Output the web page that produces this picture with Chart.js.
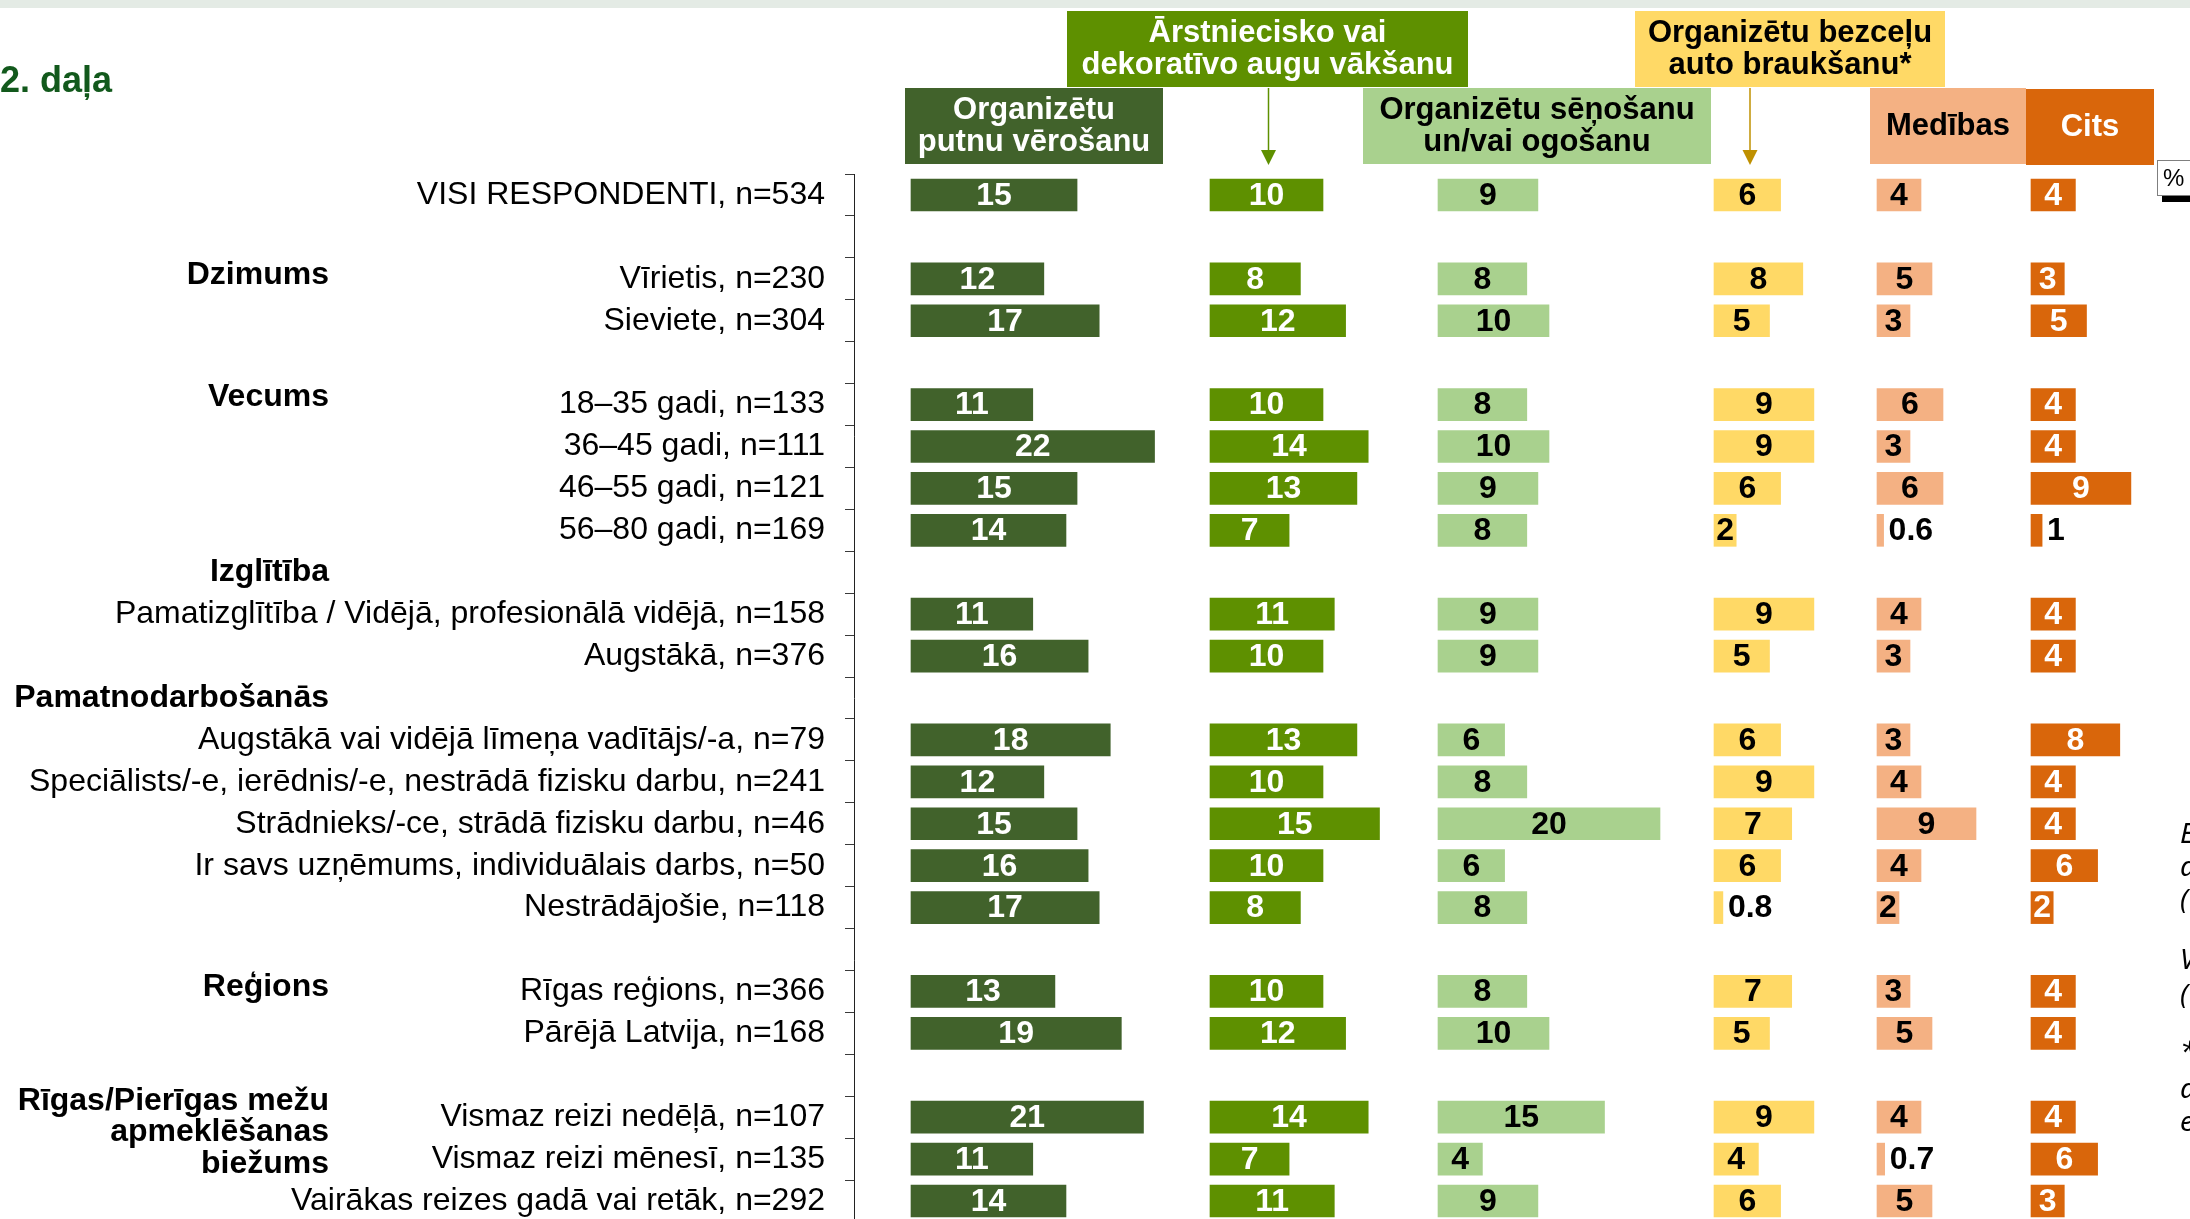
<!DOCTYPE html>
<html lang="lv">
<head>
<meta charset="utf-8">
<title>2. daļa</title>
<script src="https://cdn.jsdelivr.net/npm/chart.js@4.4.1/dist/chart.umd.min.js"></script>
<style>
  html, body { margin: 0; padding: 0; background: #fff; overflow: hidden; }
  #wrap { position: absolute; left: 0; top: 0; width: 2190px; height: 1232px; }
</style>
</head>
<body>
<div id="wrap"><canvas id="chart" width="2190" height="1232"></canvas></div>
<script>
( function ()
{
    'use strict';

    const FONT = "'Liberation Sans', Arial, Helvetica, sans-serif";

    // --- data -------------------------------------------------------------
    const rowLabels = [
        'VISI RESPONDENTI, n=534',
        '',
        'Vīrietis, n=230',
        'Sieviete, n=304',
        '',
        '18–35 gadi, n=133',
        '36–45 gadi, n=111',
        '46–55 gadi, n=121',
        '56–80 gadi, n=169',
        '',
        'Pamatizglītība / Vidējā, profesionālā vidējā, n=158',
        'Augstākā, n=376',
        '',
        'Augstākā vai vidējā līmeņa vadītājs/-a, n=79',
        'Speciālists/-e, ierēdnis/-e, nestrādā fizisku darbu, n=241',
        'Strādnieks/-ce, strādā fizisku darbu, n=46',
        'Ir savs uzņēmums, individuālais darbs, n=50',
        'Nestrādājošie, n=118',
        '',
        'Rīgas reģions, n=366',
        'Pārējā Latvija, n=168',
        '',
        'Vismaz reizi nedēļā, n=107',
        'Vismaz reizi mēnesī, n=135',
        'Vairākas reizes gadā vai retāk, n=292'
    ];

    const groupLabels = [
        [ 'Dzimums' ],
        [ 'Vecums' ],
        [ 'Izglītība' ],
        [ 'Pamatnodarbošanās' ],
        [ 'Reģions' ],
        [ 'Rīgas/Pierīgas mežu', 'apmeklēšanas', 'biežums' ]
    ];
    const groupRows = [ 2, 5, 9, 12, 19, 22 ];

    const seriesHeaders = [
        [ 'Organizētu', 'putnu vērošanu' ],
        [ 'Ārstniecisko vai', 'dekoratīvo augu vākšanu' ],
        [ 'Organizētu sēņošanu', 'un/vai ogošanu' ],
        [ 'Organizētu bezceļu', 'auto braukšanu*' ],
        [ 'Medības' ],
        [ 'Cits' ]
    ];

    const birdWatching = [ 15, null, 12, 17, null, 11, 22, 15, 14, null, 11, 16, null, 18, 12, 15, 16, 17, null, 13, 19, null, 21, 11, 14 ];
    const plantGathering = [ 10, null, 8, 12, null, 10, 14, 13, 7, null, 11, 10, null, 13, 10, 15, 10, 8, null, 10, 12, null, 14, 7, 11 ];
    const mushroomBerry = [ 9, null, 8, 10, null, 8, 10, 9, 8, null, 9, 9, null, 6, 8, 20, 6, 8, null, 8, 10, null, 15, 4, 9 ];
    const offRoadDriving = [ 6, null, 8, 5, null, 9, 9, 6, 2, null, 9, 5, null, 6, 9, 7, 6, 0.8, null, 7, 5, null, 9, 4, 6 ];
    const hunting = [ 4, null, 5, 3, null, 6, 3, 6, 0.6, null, 4, 3, null, 3, 4, 9, 4, 2, null, 3, 5, null, 4, 0.7, 5 ];
    const other = [ 4, null, 3, 5, null, 4, 4, 9, 1, null, 4, 4, null, 8, 4, 4, 6, 2, null, 4, 4, null, 4, 6, 3 ];

    const seriesValues = [ birdWatching, plantGathering, mushroomBerry, offRoadDriving, hunting, other ];

    const sideNotes = [ 'E', 'a', '(', 'V', '(', '*', 'a', 'e' ];

    // --- layout & style ---------------------------------------------------
    const AXIS_X = 854;
    const PLOT_RIGHT = 2190;
    const PLOT_TOP = 174;
    const CANVAS_H = 1232;
    const PLOT_BOTTOM = 1222;

    const panelLeft = [ 911, 1210, 1438, 1714, 1877, 2031 ];
    const unitPx = [ 11.07, 11.3, 11.1, 11.1, 11.0, 11.1 ];
    const fills = [ '#41622b', '#5e9000', '#a9d18e', '#ffd966', '#f4b183', '#d9660b' ];
    const inks = [ '#ffffff', '#ffffff', '#000000', '#000000', '#000000', '#ffffff' ];

    const headerBoxes = [
        { x: 905, y: 88, w: 258, h: 76 },
        { x: 1067, y: 11, w: 401, h: 76 },
        { x: 1363, y: 88, w: 348, h: 76 },
        { x: 1635, y: 11, w: 310, h: 76 },
        { x: 1870, y: 88, w: 156, h: 76 },
        { x: 2026, y: 89, w: 128, h: 76 }
    ];
    const arrows = [
        { x: 1268.5, top: 88, tip: 165, color: '#5e9000' },
        { x: 1750, top: 88, tip: 165, color: '#bf9000' }
    ];
    const groupNudge = [ -4, -7, 0, 0, -4, 15 ];
    const sideNoteY = [ 835, 868, 901, 961, 996, 1054, 1090, 1123 ];

    // --- plugins ----------------------------------------------------------
    const valueLabels = {
        id: 'valueLabels',
        afterDatasetsDraw ( chart )
        {
            const { ctx } = chart;
            ctx.save();
            ctx.font = `bold 32px ${ FONT }`;
            ctx.textBaseline = 'middle';
            chart.data.datasets.forEach( ( ds, i ) =>
            {
                chart.getDatasetMeta( i ).data.forEach( ( bar, j ) =>
                {
                    const v = ds.data[ j ];
                    if ( v === null || v === undefined ) return;
                    if ( v <= 1 )
                    {
                        ctx.fillStyle = '#000';
                        ctx.textAlign = 'left';
                        ctx.fillText( v < 1 ? v.toFixed( 1 ) : String( v ), bar.x + 5, bar.y + 1 );
                    }
                    else
                    {
                        ctx.fillStyle = inks[ i ];
                        ctx.textAlign = 'center';
                        ctx.fillText( String( v ), ( bar.x + bar.base ) / 2, bar.y + 1 );
                    }
                } );
            } );
            ctx.restore();
        }
    };

    const decorations = {
        id: 'decorations',
        afterDraw ( chart )
        {
            const { ctx } = chart;
            const yScale = chart.scales.y;
            ctx.save();

            // top band
            ctx.fillStyle = '#e4ebe5';
            ctx.fillRect( 0, 0, chart.width, 8 );

            // title
            ctx.fillStyle = '#12591c';
            ctx.font = `bold 36px ${ FONT }`;
            ctx.textAlign = 'left';
            ctx.textBaseline = 'alphabetic';
            ctx.fillText( '2. daļa', 0, 92 );

            // series header boxes
            ctx.font = `bold 31px ${ FONT }`;
            ctx.textAlign = 'center';
            ctx.textBaseline = 'middle';
            headerBoxes.forEach( ( b, i ) =>
            {
                ctx.fillStyle = fills[ i ];
                ctx.fillRect( b.x, b.y, b.w, b.h );
                ctx.fillStyle = inks[ i ];
                const lines = seriesHeaders[ i ];
                const cy = b.y + b.h / 2;
                lines.forEach( ( line, k ) =>
                {
                    ctx.fillText( line, b.x + b.w / 2, cy + ( k - ( lines.length - 1 ) / 2 ) * 32 );
                } );
            } );

            // arrows from the upper boxes
            arrows.forEach( a =>
            {
                ctx.strokeStyle = a.color;
                ctx.fillStyle = a.color;
                ctx.lineWidth = 1.5;
                ctx.beginPath();
                ctx.moveTo( a.x, a.top );
                ctx.lineTo( a.x, a.tip - 14 );
                ctx.stroke();
                ctx.beginPath();
                ctx.moveTo( a.x - 7.5, a.tip - 15 );
                ctx.lineTo( a.x + 7.5, a.tip - 15 );
                ctx.lineTo( a.x, a.tip );
                ctx.closePath();
                ctx.fill();
            } );

            // group labels
            ctx.fillStyle = '#000';
            ctx.font = `bold 32px ${ FONT }`;
            ctx.textAlign = 'right';
            groupLabels.forEach( ( lines, i ) =>
            {
                const y = yScale.getPixelForValue( groupRows[ i ] ) + groupNudge[ i ];
                lines.forEach( ( line, k ) =>
                {
                    ctx.fillText( line, 329, y + ( k - ( lines.length - 1 ) / 2 ) * 31.5 );
                } );
            } );

            // percent badge
            ctx.fillStyle = '#000';
            ctx.fillRect( 2162, 196, 30, 6 );
            ctx.fillStyle = '#fff';
            ctx.fillRect( 2157, 160, 40, 36 );
            ctx.strokeStyle = '#7f7f7f';
            ctx.lineWidth = 1;
            ctx.strokeRect( 2157.5, 160.5, 40, 35 );
            ctx.fillStyle = '#000';
            ctx.font = `24px ${ FONT }`;
            ctx.textAlign = 'left';
            ctx.fillText( '%', 2163, 179 );

            // clipped side notes
            ctx.font = "italic 28px 'Noto Sans', 'Open Sans', sans-serif";
            sideNotes.forEach( ( t, i ) =>
            {
                ctx.fillText( t, 2180, sideNoteY[ i ] );
            } );

            ctx.restore();
        }
    };

    // --- chart ------------------------------------------------------------
    const scales = {
        y: {
            type: 'category',
            position: 'left',
            offset: true,
            grid: {
                offset: true,
                drawOnChartArea: false,
                drawTicks: true,
                tickLength: 9,
                color: '#3a3a3a',
                lineWidth: 1
            },
            border: { display: true, color: '#222', width: 1 },
            ticks: {
                autoSkip: false,
                padding: 20,
                color: '#000',
                font: { family: FONT, size: 32 }
            },
            afterFit: scale =>
            {
                scale.width = AXIS_X;
                scale.paddingTop = 0;
                scale.paddingBottom = 0;
            }
        }
    };

    const datasets = seriesValues.map( ( values, i ) =>
    {
        scales[ 'x' + i ] = {
            type: 'linear',
            axis: 'x',
            position: 'top',
            display: false,
            min: -( panelLeft[ i ] - AXIS_X ) / unitPx[ i ],
            max: ( PLOT_RIGHT - panelLeft[ i ] ) / unitPx[ i ]
        };
        return {
            label: seriesHeaders[ i ].join( ' ' ),
            data: values,
            xAxisID: 'x' + i,
            yAxisID: 'y',
            backgroundColor: fills[ i ],
            borderWidth: 0,
            barThickness: 32,
            grouped: false
        };
    } );

    new Chart( document.getElementById( 'chart' ), {
        type: 'bar',
        data: { labels: rowLabels, datasets },
        options: {
            indexAxis: 'y',
            responsive: false,
            animation: false,
            devicePixelRatio: 1,
            layout: { padding: { top: PLOT_TOP, bottom: CANVAS_H - PLOT_BOTTOM, left: 0, right: 0 } },
            plugins: {
                legend: { display: false },
                tooltip: { enabled: false }
            },
            scales
        },
        plugins: [ valueLabels, decorations ]
    } );
} )();
</script>
</body>
</html>
